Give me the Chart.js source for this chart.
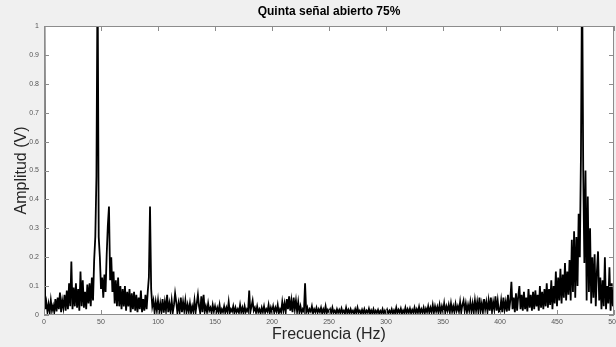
<!DOCTYPE html>
<html>
<head>
<meta charset="utf-8">
<script src="https://cdn.jsdelivr.net/npm/chart.js@4.4.1/dist/chart.umd.min.js"></script>
<style>
    html, body { margin: 0; padding: 0; background: #f0f0f0; }
    #wrap { width: 616px; height: 347px; }
</style>
</head>
<body>
<div id="wrap"><canvas id="spectrum" width="616" height="347"></canvas></div>
<script>
// Spectrum amplitude (V), one value per Hz
const stepHz = 1;

const amp0to99 = [
    1.5, 0.02, 0.045, 0.012, 0.038, 0.008, 0.05, 0.015, 0.032, 0.01,
    0.055, 0.012, 0.06, 0.02, 0.078, 0.01, 0.05, 0.025, 0.07, 0.015,
    0.085, 0.02, 0.11, 0.03, 0.185, 0.02, 0.095, 0.03, 0.11, 0.025,
    0.09, 0.015, 0.15, 0.03, 0.12, 0.025, 0.08, 0.02, 0.105, 0.04,
    0.11, 0.03, 0.13, 0.05, 0.19, 0.27, 0.48, 1.2, 0.27, 0.2,
    0.09, 0.13, 0.06, 0.14, 0.08, 0.21, 0.31, 0.375, 0.12, 0.2,
    0.08, 0.15, 0.04, 0.12, 0.03, 0.13, 0.03, 0.1, 0.02, 0.09,
    0.03, 0.1, 0.015, 0.08, 0.03, 0.09, 0.01, 0.075, 0.02, 0.08,
    0.015, 0.07, 0.01, 0.06, 0.02, 0.085, 0.01, 0.055, 0.015, 0.07,
    0.02, 0.08, 0.13, 0.375, 0.09, 0.03, 0.05, 0.01, 0.045, 0.015
];

const amp100to199 = [
    0.05, 0.01, 0.04, 0.012, 0.055, 0.008, 0.045, 0.015, 0.07, 0.01,
    0.04, 0.012, 0.05, 0.01, 0.035, 0.075, 0.045, 0.008, 0.04, 0.012,
    0.06, 0.01, 0.045, 0.015, 0.05, 0.01, 0.035, 0.012, 0.04, 0.008,
    0.03, 0.012, 0.05, 0.01, 0.04, 0.07, 0.03, 0.008, 0.065, 0.01,
    0.07, 0.012, 0.03, 0.01, 0.04, 0.015, 0.025, 0.008, 0.035, 0.012,
    0.03, 0.008, 0.025, 0.01, 0.035, 0.006, 0.02, 0.01, 0.03, 0.008,
    0.025, 0.01, 0.045, 0.008, 0.02, 0.012, 0.03, 0.006, 0.025, 0.01,
    0.02, 0.008, 0.035, 0.01, 0.025, 0.006, 0.03, 0.01, 0.02, 0.012,
    0.085, 0.01, 0.03, 0.05, 0.015, 0.025, 0.008, 0.03, 0.01, 0.02,
    0.006, 0.025, 0.01, 0.03, 0.008, 0.02, 0.012, 0.035, 0.006, 0.025
];

const amp200to299 = [
    0.01, 0.03, 0.008, 0.025, 0.012, 0.035, 0.006, 0.02, 0.01, 0.045,
    0.015, 0.04, 0.01, 0.055, 0.02, 0.065, 0.015, 0.05, 0.01, 0.06,
    0.02, 0.05, 0.012, 0.045, 0.01, 0.03, 0.008, 0.02, 0.012, 0.11,
    0.01, 0.025, 0.008, 0.02, 0.012, 0.03, 0.006, 0.02, 0.01, 0.025,
    0.008, 0.02, 0.01, 0.025, 0.006, 0.02, 0.008, 0.03, 0.006, 0.018,
    0.01, 0.02, 0.006, 0.025, 0.008, 0.015, 0.005, 0.02, 0.008, 0.018,
    0.006, 0.022, 0.008, 0.015, 0.005, 0.025, 0.007, 0.018, 0.005, 0.02,
    0.008, 0.015, 0.005, 0.02, 0.006, 0.025, 0.008, 0.015, 0.005, 0.018,
    0.006, 0.02, 0.005, 0.015, 0.008, 0.022, 0.005, 0.016, 0.006, 0.02,
    0.005, 0.015, 0.007, 0.018, 0.005, 0.014, 0.006, 0.02, 0.005, 0.015
];

const amp300to399 = [
    0.006, 0.018, 0.005, 0.015, 0.007, 0.02, 0.005, 0.016, 0.006, 0.025,
    0.006, 0.018, 0.008, 0.022, 0.005, 0.016, 0.007, 0.025, 0.006, 0.02,
    0.008, 0.022, 0.006, 0.018, 0.008, 0.025, 0.006, 0.02, 0.008, 0.028,
    0.007, 0.02, 0.008, 0.025, 0.006, 0.022, 0.01, 0.03, 0.008, 0.025,
    0.01, 0.035, 0.008, 0.03, 0.012, 0.028, 0.008, 0.035, 0.01, 0.03,
    0.012, 0.04, 0.008, 0.03, 0.015, 0.035, 0.01, 0.04, 0.012, 0.03,
    0.01, 0.038, 0.015, 0.03, 0.012, 0.045, 0.01, 0.035, 0.05, 0.015,
    0.04, 0.01, 0.035, 0.015, 0.045, 0.012, 0.04, 0.01, 0.05, 0.015,
    0.045, 0.012, 0.06, 0.015, 0.04, 0.01, 0.055, 0.02, 0.045, 0.012,
    0.05, 0.015, 0.06, 0.012, 0.045, 0.02, 0.065, 0.015, 0.05, 0.012
];

const amp400to500 = [
    0.015, 0.05, 0.01, 0.06, 0.02, 0.045, 0.012, 0.07, 0.015, 0.05,
    0.115, 0.02, 0.06, 0.01, 0.075, 0.015, 0.065, 0.1, 0.02, 0.07,
    0.015, 0.08, 0.02, 0.06, 0.012, 0.09, 0.025, 0.07, 0.015, 0.08,
    0.02, 0.085, 0.03, 0.07, 0.015, 0.1, 0.025, 0.08, 0.02, 0.09,
    0.03, 0.11, 0.025, 0.09, 0.035, 0.12, 0.02, 0.1, 0.04, 0.15,
    0.03, 0.13, 0.05, 0.16, 0.04, 0.14, 0.06, 0.18, 0.05, 0.15,
    0.07, 0.19, 0.05, 0.26, 0.08, 0.29, 0.06, 0.27, 0.1, 0.35,
    0.2, 0.55, 1.2, 0.5, 0.18, 0.5, 0.05, 0.41, 0.08, 0.3,
    0.04, 0.2, 0.06, 0.21, 0.03, 0.15, 0.22, 0.05, 0.13, 0.02,
    0.12, 0.03, 0.2, 0.02, 0.1, 0.04, 0.165, 0.015, 0.11, 0.03,
    0.08
];

const amplitude = [].concat(amp0to99, amp100to199, amp200to299, amp300to399, amp400to500);

const titleText = 'Quinta señal abierto 75%';
const xLabel = 'Frecuencia (Hz)';
const yLabel = 'Amplitud (V)';

// MATLAB-like axes: white plot box, inward ticks on all four sides
const axesBox = {
    id: 'axesBox',
    beforeDraw(chart) {
        const { ctx, chartArea: a } = chart;
        ctx.save();
        ctx.fillStyle = '#ffffff';
        ctx.fillRect(a.left, a.top, a.right - a.left, a.bottom - a.top);
        ctx.restore();
    },
    afterDraw(chart) {
        const { ctx, chartArea: a, scales } = chart;
        ctx.save();
        ctx.strokeStyle = '#8c8c8c';
        ctx.lineWidth = 1;
        ctx.strokeRect(a.left + 0.5, a.top + 0.5, a.right - a.left - 1, a.bottom - a.top - 1);
        ctx.beginPath();
        scales.x.ticks.forEach(t => {
            const px = Math.round(scales.x.getPixelForValue(t.value)) + 0.5;
            ctx.moveTo(px, a.bottom);
            ctx.lineTo(px, a.bottom - 5);
            ctx.moveTo(px, a.top);
            ctx.lineTo(px, a.top + 5);
        });
        scales.y.ticks.forEach(t => {
            const py = Math.round(scales.y.getPixelForValue(t.value)) + 0.5;
            ctx.moveTo(a.left, py);
            ctx.lineTo(a.left + 5, py);
            ctx.moveTo(a.right, py);
            ctx.lineTo(a.right - 5, py);
        });
        ctx.stroke();
        ctx.restore();
    }
};

const tickFont = { family: 'Liberation Sans, Arial, sans-serif', size: 7 };
const labelFont = { family: 'Liberation Sans, Arial, sans-serif', size: 16 };

new Chart(document.getElementById('spectrum'), {
    type: 'line',
    data: {
        datasets: [{
            data: amplitude.map((v, i) => ({ x: i * stepHz, y: v })),
            borderColor: '#000000',
            borderWidth: 1.8,
            pointRadius: 0,
            tension: 0,
            fill: false
        }]
    },
    options: {
        responsive: false,
        animation: false,
        devicePixelRatio: 1,
        layout: { padding: { left: 0, right: 2, top: 0, bottom: 0 } },
        plugins: {
            legend: { display: false },
            tooltip: { enabled: false },
            title: {
                display: true,
                text: titleText,
                fullSize: false,
                color: '#000000',
                font: { family: 'Liberation Sans, Arial, sans-serif', size: 12, weight: 'bold' },
                padding: { top: 4, bottom: 7.6 }
            }
        },
        scales: {
            x: {
                type: 'linear',
                min: 0,
                max: 500,
                ticks: { stepSize: 50, color: '#555', font: tickFont, padding: 3, maxRotation: 0 },
                grid: { display: false, drawTicks: false },
                border: { display: false },
                title: { display: true, text: xLabel, color: '#262626', font: labelFont, padding: { top: 0, bottom: 3 } },
                afterFit(scale) {
                    scale.height = 32;
                    scale.paddingLeft = 0;
                    scale.paddingRight = 0;
                }
            },
            y: {
                min: 0,
                max: 1,
                ticks: {
                    stepSize: 0.1,
                    color: '#555',
                    font: tickFont,
                    padding: 5,
                    callback: v => String(Number(v.toFixed(1)))
                },
                grid: { display: false, drawTicks: false },
                border: { display: false },
                title: { display: true, text: yLabel, color: '#262626', font: labelFont, padding: { top: 12, bottom: 0 } },
                afterFit(scale) {
                    scale.width = 44;
                    scale.paddingTop = 0;
                    scale.paddingBottom = 0;
                }
            }
        }
    },
    plugins: [axesBox]
});
</script>
</body>
</html>
